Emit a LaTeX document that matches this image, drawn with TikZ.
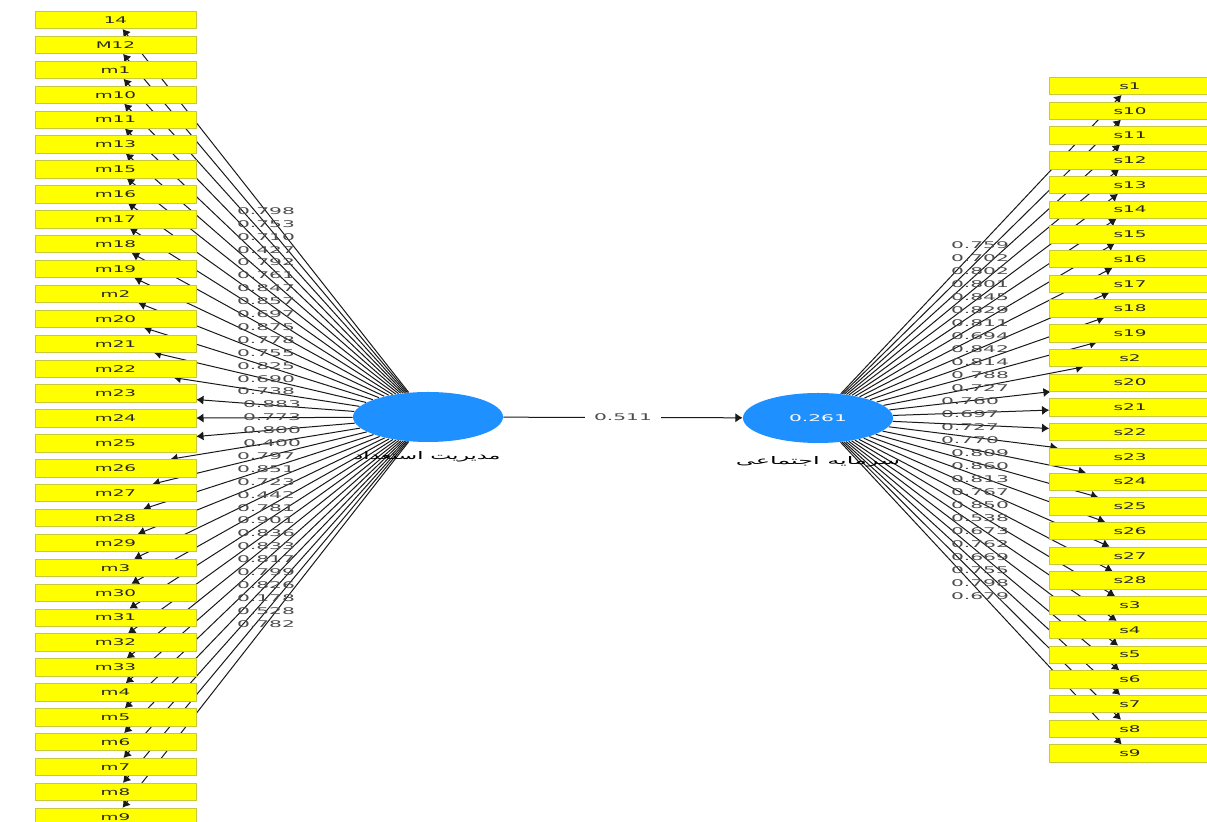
\documentclass[tikz,border=0pt]{standalone}
\usepackage{fontspec}
\setmainfont{DejaVu Sans}
\newfontfamily\arabicfont[Script=Arabic]{DejaVu Sans}
\TeXXeTstate=1
\usepackage{graphicx}
\usetikzlibrary{arrows.meta,shapes.geometric}
\pgfdeclarelayer{bg}
\pgfsetlayers{bg,main}
\newcommand\hstretch[2]{\scalebox{#1}[1]{#2}}
\definecolor{indyellow}{RGB}{255,255,0}
\definecolor{indborder}{RGB}{200,200,60}
\definecolor{latblue}{RGB}{30,144,255}
\begin{document}
\begin{tikzpicture}[x=0.5pt,y=-0.5pt,
  ind/.style={rectangle,fill=indyellow,draw=indborder,line width=0.3pt,
    minimum width=80.5pt,minimum height=8.7pt,inner sep=0pt,
    font=\fontsize{4.6pt}{5pt}\selectfont,text=black!85},
  lat/.style={ellipse,fill=latblue,minimum width=75pt,minimum height=25pt,inner sep=0pt,
    font=\fontsize{4.6pt}{5pt}\selectfont,text=white},
  load/.style={-{Latex[length=3.6pt,width=4.6pt]},line width=0.5pt,draw=black!90},
  lbl/.style={font=\fontsize{4.6pt}{5pt}\selectfont,text=black!70,inner sep=0pt},
  pname/.style={inner sep=0pt,text=black}]
\useasboundingbox (0,0) rectangle (1207,822);
% left indicators
\foreach \t [count=\i from 0] in {14,M12,m1,m10,m11,m13,m15,m16,m17,m18,m19,m2,m20,m21,m22,m23,m24,m25,m26,m27,m28,m29,m3,m30,m31,m32,m33,m4,m5,m6,m7,m8,m9}
  \node[ind] (L\i) at (115.5,{20+24.9*\i}) {\hstretch{2}{\t}};
% right indicators
\foreach \t [count=\i from 0] in {s1,s10,s11,s12,s13,s14,s15,s16,s17,s18,s19,s2,s20,s21,s22,s23,s24,s25,s26,s27,s28,s3,s4,s5,s6,s7,s8,s9}
  \node[ind] (R\i) at (1130,{86+24.72*\i}) {\hstretch{2}{\t}};
% latent variables
\node[lat] (LV1) at (428,417) {};
\node[lat] (LV2) at (818,418) {\hstretch{2.2}{0.261}};
\node[pname] (LV1t) at (427,457) {\resizebox{73.5pt}{4pt}{\arabicfont\beginR مدیریت استعداد\endR}};
\node[pname] (LV2t) at (818,462) {\resizebox{82pt}{4pt}{\arabicfont\beginR سرمایه اجتماعی\endR}};
% loading labels left
\foreach \v [count=\i from 0] in {0.798,0.753,0.710,0.427,0.792,0.761,0.847,0.857,0.697,0.875,0.778,0.755,0.825,0.690,0.738,0.883,0.773,0.800,0.400,0.797,0.851,0.723,0.442,0.781,0.901,0.836,0.833,0.817,0.799,0.826,0.178,0.528,0.782}{
  \pgfmathsetmacro\lx{266+6*and(\i>14,\i<19)}
  \node[lbl] (lL\i) at (\lx,{211+12.9*\i}) {\hstretch{2.2}{\v}};
}
% loading labels right
\foreach \v [count=\i from 0] in {0.759,0.702,0.802,0.801,0.845,0.829,0.811,0.694,0.842,0.814,0.788,0.727,0.760,0.697,0.727,0.770,0.809,0.860,0.813,0.767,0.850,0.538,0.673,0.762,0.669,0.755,0.798,0.679}{
  \pgfmathsetmacro\rx{980-10*and(\i>11,\i<16)}
  \node[lbl] (lR\i) at (\rx,{245+13*\i}) {\hstretch{2.2}{\v}};
}
% structural path
\draw[load] (LV1) -- node[lbl,fill=white,inner xsep=4.5pt,inner ysep=1pt] (pth) {\hstretch{2.2}{0.511}} (LV2);
\begin{pgfonlayer}{bg}
  \fill[white] (0,0) rectangle (1207,822);
  \foreach \i in {0,...,32} \draw[load] (LV1) -- (L\i);
  \foreach \i in {0,...,27} \draw[load] (LV2) -- (R\i);
\end{pgfonlayer}
\end{tikzpicture}
\end{document}
